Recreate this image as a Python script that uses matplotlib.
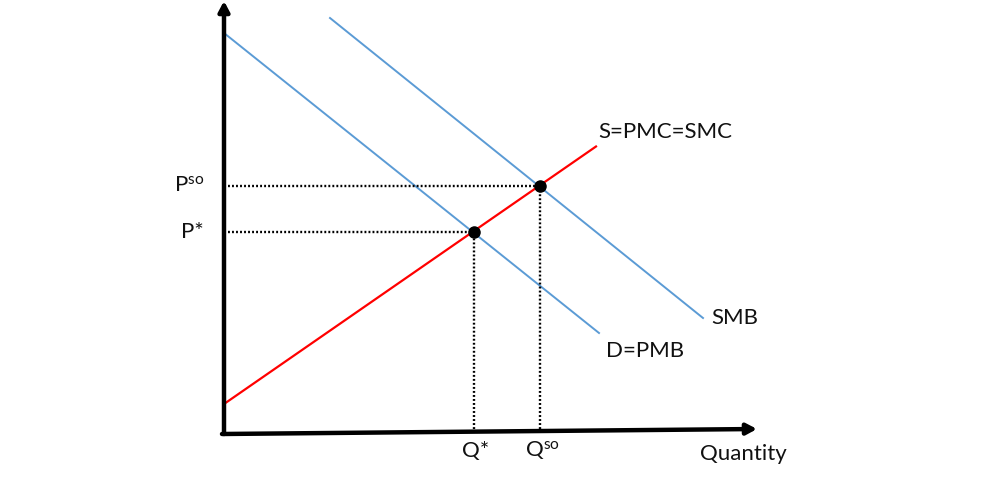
import matplotlib.pyplot as plt

plt.rcParams['font.family'] = ['Lato', 'DejaVu Sans']
plt.rcParams['mathtext.fontset'] = 'custom'
plt.rcParams['mathtext.rm'] = 'Lato'
plt.rcParams['mathtext.it'] = 'Lato'

# curve end points (quantity, price)
demand_q = [0.0, 7.5]
demand_p = [8.0, 2.0]
smb_q = [2.12, 9.58]
smb_p = [8.3, 2.3]
supply_q = [0.0, 7.44]
supply_p = [0.58, 5.73]

# equilibria: market (Q*, P*) and social optimum (Qso, Pso)
eq_q = [4.99, 6.31]
eq_p = [4.02, 4.94]
q_labels = ['Q*', r'$\mathrm{Q}^{\mathrm{so}}$']
p_labels = ['P*', r'$\mathrm{P}^{\mathrm{so}}$']

blue = '#5B9BD5'
red = '#FF0000'
txt = '#111111'
fs = 16

fig = plt.figure(figsize=(9.94, 4.96), dpi=100)
ax = fig.add_axes([0, 0, 1, 1])
ax.set_xlim(-4.48, 15.4)
ax.set_ylim(-1.26, 8.66)
ax.axis('off')

# axes with arrow heads
arrow = dict(arrowstyle='-|>,head_width=0.32,head_length=0.6', lw=3.2,
             color='black', shrinkA=0, shrinkB=0)
ax.annotate('', xy=(0, 8.64), xytext=(0, -0.02), arrowprops=arrow)
ax.annotate('', xy=(10.66, 0.08), xytext=(-0.04, -0.02), arrowprops=arrow)

ax.plot(demand_q, demand_p, color=blue, lw=1.4)
ax.plot(smb_q, smb_p, color=blue, lw=1.4)
ax.plot(supply_q, supply_p, color=red, lw=1.6)

for q, p in zip(eq_q, eq_p):
    ax.plot([q, q], [0, p], color='black', lw=1.7, ls=(0, (0.8, 0.9)))
    ax.plot([0, q], [p, p], color='black', lw=1.7, ls=(0, (0.8, 0.9)))
ax.plot(eq_q, eq_p, 'o', color='black', ms=8, zorder=5)

for q, lab in zip(eq_q, q_labels):
    ax.text(q + 0.05, -0.36, lab, ha='center', va='center', fontsize=fs, color=txt)
for p, lab in zip(eq_p, p_labels):
    ax.text(-0.4, p, lab, ha='right', va='center', fontsize=fs, color=txt)

ax.text(7.48, 6.02, 'S=PMC=SMC', ha='left', va='center', fontsize=fs, color=txt)
ax.text(9.74, 2.3, 'SMB', ha='left', va='center', fontsize=fs, color=txt)
ax.text(7.64, 1.64, 'D=PMB', ha='left', va='center', fontsize=fs, color=txt)
ax.text(9.52, -0.42, 'Quantity', ha='left', va='center', fontsize=fs, color=txt)

fig.savefig('out.png', dpi=100)
